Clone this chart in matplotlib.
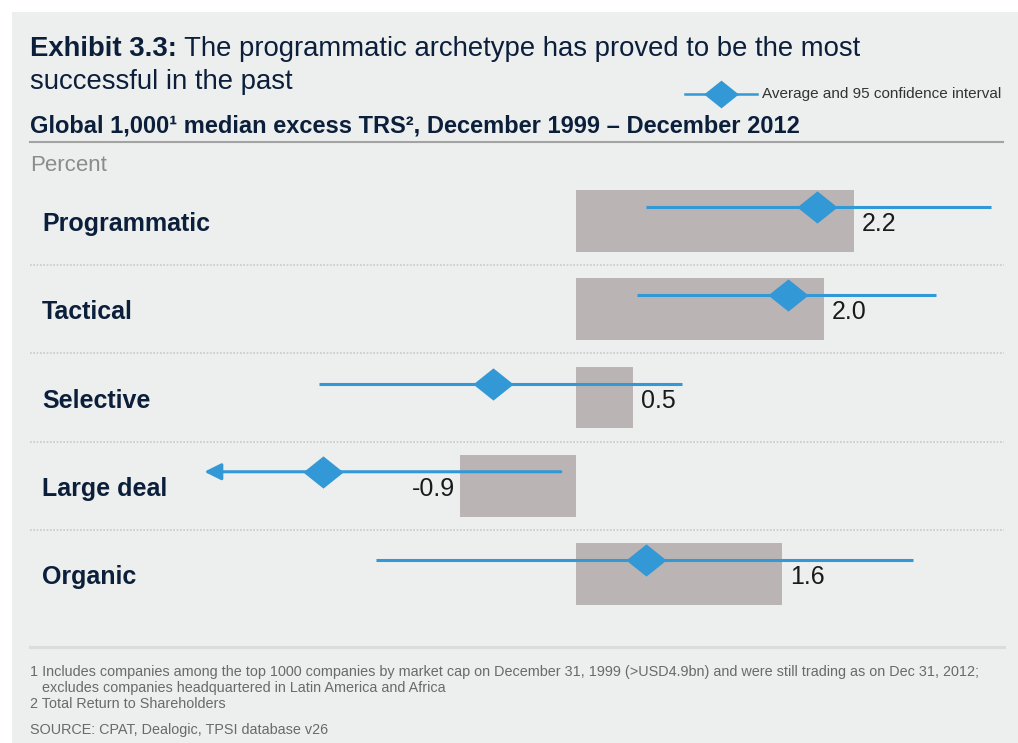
import matplotlib
matplotlib.use("Agg")
import matplotlib.pyplot as plt
from matplotlib.lines import Line2D
from matplotlib.patches import Rectangle
from matplotlib.path import Path

# ---------------- data ----------------
categories = ["Programmatic", "Tactical", "Selective", "Large deal", "Organic"]
bar_values = [2.20, 1.96, 0.45, -0.92, 1.63]
bar_labels = ["2.2", "2.0", "0.5", "-0.9", "1.6"]
averages = [1.91, 1.68, -0.66, -2.00, 0.55]
ci_low = [0.55, 0.48, -2.03, -2.94, -1.58]
ci_high = [3.28, 2.85, 0.84, -0.12, 2.67]
ci_open_low = [False, False, False, True, False]

title_bold = "Exhibit 3.3:"
title_rest = "The programmatic archetype has proved to be the most"
title_line2 = "successful in the past"
subtitle = "Global 1,000\u00b9 median excess TRS\u00b2, December 1999 \u2013 December 2012"
unit_label = "Percent"
legend_label = "Average and 95 confidence interval"
footnotes = [
    "1 Includes companies among the top 1000 companies by market cap on December 31, 1999 (>USD4.9bn) and were still trading as on Dec 31, 2012;",
    "excludes companies headquartered in Latin America and Africa",
    "2 Total Return to Shareholders",
]
source = "SOURCE: CPAT, Dealogic, TPSI database v26"

# ---------------- style ----------------
W, H = 1018, 743
BG = "#EDEEEE"
BAR = "#BAB4B4"
BLUE = "#3398D6"
NAVY = "#0B1F3B"
FOOT_TXT = "#6A6A6A"
plt.rcParams["font.family"] = ["Liberation Sans", "DejaVu Sans"]

fig = plt.figure(figsize=(W / 100, H / 100), dpi=100)
fig.patch.set_facecolor("white")


def fx(px):
    return px / W


def fy(py):
    return 1 - py / H


# panel background
fig.add_artist(Rectangle((fx(12), 0), 1 - fx(12), fy(12), transform=fig.transFigure,
                         facecolor=BG, edgecolor="none", zorder=0))

# ---------------- main axes ----------------
px_per_unit = 126.4
zero_px = 576
ax_left_px, ax_right_px = 12, 1018
row0_px, row_step = 221, 88.25
ax_top_px = row0_px - 0.5 * row_step
ax_bot_px = row0_px + 4.5 * row_step
ax = fig.add_axes([fx(ax_left_px), fy(ax_bot_px), fx(ax_right_px - ax_left_px),
                   (ax_bot_px - ax_top_px) / H])
ax.set_xlim((ax_left_px - zero_px) / px_per_unit, (ax_right_px - zero_px) / px_per_unit)
ax.set_ylim(4.5, -0.5)
ax.axis("off")
ax.patch.set_alpha(0)

ys = list(range(len(categories)))
ax.barh(ys, bar_values, height=0.70, color=BAR, zorder=2)

# separators
sep_x0 = (30 - zero_px) / px_per_unit
sep_x1 = (1004 - zero_px) / px_per_unit
for i in range(len(categories) - 1):
    ax.plot([sep_x0, sep_x1], [i + 0.5, i + 0.5], color="#C9C9C9", lw=1.2,
            linestyle=(0, (1, 1)), zorder=1)

# CI lines and diamonds
off = -14 / row_step
diamond = Path([(-1.25, 0), (0, 1), (1.25, 0), (0, -1), (-1.25, 0)],
               [Path.MOVETO, Path.LINETO, Path.LINETO, Path.LINETO, Path.CLOSEPOLY])
for y, lo, hi, av, open_lo in zip(ys, ci_low, ci_high, averages, ci_open_low):
    yy = y + off
    if open_lo:
        ax.annotate("", xy=(lo, yy), xytext=(hi, yy),
                    arrowprops=dict(arrowstyle="-|>,head_length=0.36,head_width=0.18",
                                    color=BLUE, lw=2.2,
                                    mutation_scale=28, shrinkA=0, shrinkB=0),
                    zorder=3)
    else:
        ax.plot([lo, hi], [yy, yy], color=BLUE, lw=2.2, solid_capstyle="butt", zorder=3)
    ax.plot([av], [yy], marker=diamond, markersize=29, color=BLUE, markeredgewidth=0,
            zorder=4)

# value labels (baseline ~10 px below the row centre)
for y, v, lab in zip(ys, bar_values, bar_labels):
    if v >= 0:
        ax.annotate(lab, xy=(v, y), xytext=(8, -10), textcoords="offset pixels",
                    ha="left", va="baseline", fontsize=18, color="#1A1A1A", zorder=5)
    else:
        ax.annotate(lab, xy=(v, y), xytext=(-5, -10), textcoords="offset pixels",
                    ha="right", va="baseline", fontsize=18, color="#1A1A1A", zorder=5)

# category labels
for y, c in zip(ys, categories):
    ax.annotate(c, xy=(0, y), xycoords=("figure fraction", "data"),
                xytext=(42, -10), textcoords="offset pixels",
                ha="left", va="baseline", fontsize=18, fontweight="bold", color=NAVY)

# ---------------- titles ----------------
TS = 19.8
t1 = fig.text(fx(30), fy(56), title_bold, fontsize=TS, fontweight="bold",
              color=NAVY, ha="left", va="baseline")
ax.annotate(" " + title_rest, xy=(1, 0), xycoords=t1, ha="left", va="bottom",
            fontsize=TS, color=NAVY, annotation_clip=False)
fig.text(fx(30), fy(89), title_line2, fontsize=TS, color=NAVY, ha="left", va="baseline")

fig.text(fx(30), fy(133), subtitle, fontsize=17, fontweight="bold", color=NAVY,
         ha="left", va="baseline")
fig.add_artist(Line2D([fx(30), fx(1003)], [fy(142), fy(142)], transform=fig.transFigure,
                      color="#A3A3A3", lw=1.5))
fig.text(fx(30), fy(171), unit_label, fontsize=16, color="#8C8C8C", ha="left",
         va="baseline")

# legend
fig.add_artist(Line2D([fx(685), fx(757)], [fy(94), fy(94)], transform=fig.transFigure,
                      color=BLUE, lw=1.8))
fig.add_artist(Line2D([fx(721)], [fy(94)], transform=fig.transFigure, marker=diamond,
                      markersize=25, color=BLUE, markeredgewidth=0, linestyle="none"))
fig.text(fx(762), fy(94), legend_label, fontsize=11, color="#333333", ha="left",
         va="center")

# bottom rule and footnotes
FS = 10.35
fig.add_artist(Line2D([fx(30), fx(1004)], [fy(647), fy(647)], transform=fig.transFigure,
                      color="#DCDCDC", lw=2.2))
fig.text(fx(30), fy(672), footnotes[0], fontsize=FS, color=FOOT_TXT, ha="left", va="center")
fig.text(fx(42), fy(688), footnotes[1], fontsize=FS, color=FOOT_TXT, ha="left", va="center")
fig.text(fx(30), fy(704), footnotes[2], fontsize=FS, color=FOOT_TXT, ha="left", va="center")
fig.text(fx(30), fy(730), source, fontsize=FS, color=FOOT_TXT, ha="left", va="center")

fig.savefig("out.png", dpi=100, facecolor=fig.get_facecolor())
